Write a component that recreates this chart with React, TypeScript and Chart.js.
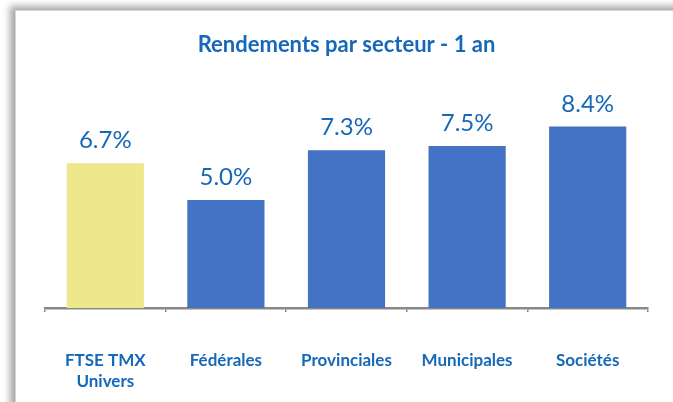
import React, { useEffect, useRef } from "react";
import { Chart, registerables } from "chart.js";

Chart.register(...registerables);

const titleText = "Rendements par secteur - 1 an";
const categories: (string | string[])[] = [["FTSE TMX", "Univers"], "Fédérales", "Provinciales", "Municipales", "Sociétés"];
const returns = [6.7, 5.0, 7.3, 7.5, 8.4];
const barColors = ["#ECE88B", "#4472C4", "#4472C4", "#4472C4", "#4472C4"];
const textBlue = "#1668B8";
const fontFamily = "Lato, 'Open Sans', sans-serif";

const valueLabels = {
  id: "valueLabels",
  afterDatasetsDraw(chart: any) {
    const ctx = chart.ctx;
    const meta = chart.getDatasetMeta(0);
    ctx.save();
    ctx.fillStyle = textBlue;
    ctx.font = `400 24px ${fontFamily}`;
    ctx.textAlign = "center";
    ctx.textBaseline = "alphabetic";
    meta.data.forEach((bar: any, i: number) => {
      const v = chart.data.datasets[0].data[i] as number;
      ctx.fillText(v.toFixed(1) + "%", bar.x, bar.y - 15);
    });
    ctx.restore();
  },
};

export default function App() {
  const ref = useRef<HTMLCanvasElement>(null);
  useEffect(() => {
    if (!ref.current) return;
    const chart = new Chart(ref.current, {
      type: "bar",
      data: {
        labels: categories,
        datasets: [
          {
            data: returns,
            backgroundColor: barColors,
            borderWidth: 0,
            categoryPercentage: 1,
            barPercentage: 0.64,
          },
        ],
      },
      options: {
        responsive: true,
        maintainAspectRatio: false,
        animation: false,
        layout: { padding: { left: 45, right: 25, top: 0, bottom: 0 } },
        plugins: {
          legend: { display: false },
          tooltip: { enabled: false },
          title: {
            display: true,
            text: titleText,
            color: textBlue,
            font: { family: fontFamily, size: 22, weight: "bold" },
            padding: { top: 32, bottom: 33.6 },
          },
        },
        scales: {
          x: {
            afterFit: (scale: any) => {
              scale.height = 94;
            },
            grid: {
              display: true,
              drawOnChartArea: false,
              drawTicks: true,
              tickLength: 4,
              color: "#888888",
              lineWidth: 1.5,
              offset: true,
            },
            border: { display: true, color: "#888888", width: 2.5 },
            ticks: {
              color: textBlue,
              padding: 38,
              maxRotation: 0,
              autoSkip: false,
              font: { family: fontFamily, size: 17, weight: "bold", lineHeight: 1.24 },
            },
          },
          y: {
            display: false,
            min: 0,
            max: 10,
          },
        },
      },
      plugins: [valueLabels],
    });
    return () => chart.destroy();
  }, []);

  return (
    <div style={{ position: "fixed", left: 0, top: 0, width: 673, height: 402, overflow: "hidden", background: "#fff" }}>
      <div
        style={{
          position: "absolute",
          left: 15,
          top: 10,
          width: 720,
          height: 450,
          border: "1px solid #d4d4d4",
          boxShadow: "-5px -4px 7px rgba(0,0,0,0.35)",
          background: "#fff",
        }}
      />
      <div style={{ position: "absolute", left: 0, top: 0, width: 673, height: 402 }}>
        <canvas ref={ref} />
      </div>
    </div>
  );
}
